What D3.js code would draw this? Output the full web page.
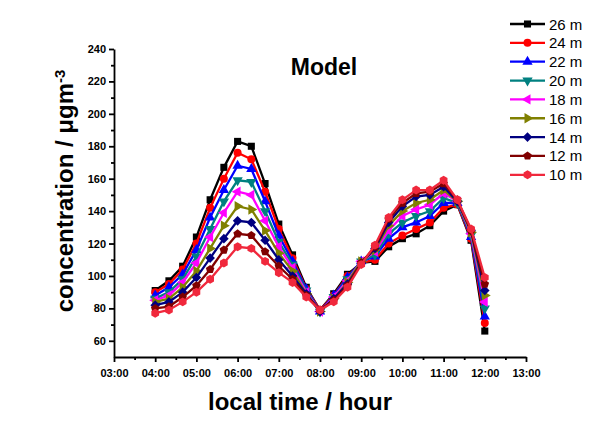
<!DOCTYPE html>
<html>
<head>
<meta charset="utf-8">
<script src="https://cdn.jsdelivr.net/npm/d3@7"></script>
<style>
  body { margin: 0; background: #fff; }
  svg { font-family: "Liberation Sans", Arial, sans-serif; }
  .axis path, .axis line { stroke: #000; stroke-width: 1.8px; }
  .axis text { font-size: 11px; font-weight: bold; fill: #000; }
</style>
</head>
<body>
<div id="chart"></div>
<script>
var times = ["04:00","04:20","04:40","05:00","05:20","05:40","06:00","06:20","06:40",
             "07:00","07:20","07:40","08:00","08:20","08:40","09:00","09:20","09:40",
             "10:00","10:20","10:40","11:00","11:20","11:40","12:00"];

var h26 = [91, 97, 106, 124, 147, 167, 183, 180, 157, 132, 113, 93, 79, 89, 101, 108, 109, 118, 123, 126, 131, 140, 144, 122, 66];
var h24 = [90, 95, 104, 120, 142, 160, 176, 172, 152, 129, 111, 92, 79, 88, 100, 108, 110, 120, 125, 129, 133, 142, 144, 123, 71];
var h22 = [88, 93, 101, 116, 136, 153, 168, 166, 146, 125, 109, 92, 78, 88, 99, 109, 112, 123, 130, 133, 137, 145, 145, 124, 75];
var h20 = [86, 90, 98, 112, 129, 146, 159, 158, 140, 121, 107, 91, 78, 87, 98, 109, 113, 126, 133, 137, 140, 148, 145, 125, 80];
var h18 = [85, 88, 96, 108, 124, 139, 152, 150, 134, 118, 105, 90, 78, 87, 97, 109, 115, 128, 137, 141, 144, 151, 146, 126, 84];
var h16 = [84, 86, 93, 103, 117, 131, 143, 141, 128, 114, 103, 89, 78, 86, 96, 109, 116, 131, 140, 145, 147, 153, 146, 127, 88];
var h14 = [82, 84, 90, 99, 111, 123, 134, 133, 122, 110, 100, 89, 78, 86, 95, 108, 117, 133, 143, 149, 150, 155, 146, 128, 91];
var h12 = [80, 81, 87, 94, 104, 116, 126, 125, 115, 106, 98, 88, 79, 85, 94, 108, 118, 135, 145, 151, 152, 157, 147, 128, 95];
var h10 = [77, 79, 84, 90, 98, 108, 118, 117, 109, 102, 96, 87, 79, 84, 93, 107, 119, 136, 147, 153, 153, 159, 147, 129, 99];

var seriesNames = ["26 m", "24 m", "22 m", "20 m", "18 m", "16 m", "14 m", "12 m", "10 m"];
var seriesValues = [h26, h24, h22, h20, h18, h16, h14, h12, h10];
var seriesColors = ["#000000", "#ff0000", "#0000ff", "#008080", "#ff00ff", "#808000", "#000080", "#800000", "#f0283c"];
var seriesShapes = ["square", "circle", "up", "down", "left", "right", "diamond", "pentagon", "hexagon"];

var xTicks = [3, 4, 5, 6, 7, 8, 9, 10, 11, 12, 13];
var yTicks = [60, 80, 100, 120, 140, 160, 180, 200, 220, 240];

var width = 608, height = 422;
var margin = {top: 49, right: 82, bottom: 65, left: 114};

function toHour(s) {
    var p = s.split(":");
    return +p[0] + (+p[1]) / 60;
}

function polygon(n, rot) {
    return {
        draw: function(ctx, size) {
            var r = Math.sqrt(size / (n / 2 * Math.sin(2 * Math.PI / n)));
            for (var i = 0; i < n; i++) {
                var a = rot + i * 2 * Math.PI / n;
                var x = r * Math.sin(a), y = -r * Math.cos(a);
                if (i === 0) ctx.moveTo(x, y); else ctx.lineTo(x, y);
            }
            ctx.closePath();
        }
    };
}

function markerPath(shape) {
    if (shape === "square") return d3.symbol(d3.symbolSquare, 50)();
    if (shape === "circle") return d3.symbol(d3.symbolCircle, 50)();
    if (shape === "diamond") return d3.symbol(polygon(4, 0), 46)();
    if (shape === "pentagon") return d3.symbol(polygon(5, 0), 48)();
    if (shape === "hexagon") return d3.symbol(polygon(6, 0), 52)();
    return d3.symbol(d3.symbolTriangle, 46)();
}

function markerRotate(shape) {
    if (shape === "down") return 180;
    if (shape === "left") return -90;
    if (shape === "right") return 90;
    return 0;
}

var svg = d3.select("#chart").append("svg")
    .attr("width", width)
    .attr("height", height);

var x = d3.scaleLinear()
    .domain([3, 13])
    .range([margin.left, width - margin.right]);

var y = d3.scaleLinear()
    .domain([50, 240])
    .range([height - margin.bottom, margin.top]);

// minor ticks first, then major ones on top
svg.append("g")
    .attr("class", "axis")
    .attr("transform", "translate(0," + (height - margin.bottom) + ")")
    .call(d3.axisBottom(x).tickValues(d3.range(3.5, 13, 1)).tickSize(3).tickFormat(""))
    .select(".domain").remove();

svg.append("g")
    .attr("class", "axis")
    .attr("transform", "translate(0," + (height - margin.bottom) + ")")
    .call(d3.axisBottom(x).tickValues(xTicks).tickSize(5).tickSizeOuter(0)
        .tickFormat(function(d) { return d3.format("02d")(d) + ":00"; }))
    .selectAll("text").attr("dy", "1.05em");

svg.append("g")
    .attr("class", "axis")
    .attr("transform", "translate(" + margin.left + ",0)")
    .call(d3.axisLeft(y).tickValues(d3.range(70, 240, 20)).tickSize(3).tickFormat(""))
    .select(".domain").remove();

svg.append("g")
    .attr("class", "axis")
    .attr("transform", "translate(" + margin.left + ",0)")
    .call(d3.axisLeft(y).tickValues(yTicks).tickSize(5).tickSizeOuter(0).tickPadding(3));

var line = d3.line()
    .x(function(d, i) { return x(toHour(times[i])); })
    .y(function(d) { return y(d); });

seriesValues.forEach(function(vals, k) {
    var g = svg.append("g");
    g.append("path")
        .datum(vals)
        .attr("fill", "none")
        .attr("stroke", seriesColors[k])
        .attr("stroke-width", 2.3)
        .attr("d", line);
    g.selectAll("path.mark")
        .data(vals)
        .enter().append("path")
        .attr("class", "mark")
        .attr("fill", seriesColors[k])
        .attr("d", markerPath(seriesShapes[k]))
        .attr("transform", function(d, i) {
            return "translate(" + x(toHour(times[i])) + "," + y(d) + ") rotate(" + markerRotate(seriesShapes[k]) + ")";
        });
});

// legend
var legend = svg.append("g").attr("transform", "translate(510,24)");
seriesNames.forEach(function(name, k) {
    var row = legend.append("g").attr("transform", "translate(0," + (k * 18.85) + ")");
    row.append("line")
        .attr("x1", 0).attr("x2", 35)
        .attr("stroke", seriesColors[k])
        .attr("stroke-width", 2.3);
    row.append("path")
        .attr("fill", seriesColors[k])
        .attr("d", markerPath(seriesShapes[k]))
        .attr("transform", "translate(17.5,0) rotate(" + markerRotate(seriesShapes[k]) + ")");
    row.append("text")
        .attr("x", 39)
        .attr("y", 5.5)
        .style("font-size", "15px")
        .text(name);
});

svg.append("text")
    .attr("x", 324)
    .attr("y", 75)
    .attr("text-anchor", "middle")
    .style("font-size", "23px")
    .style("font-weight", "bold")
    .text("Model");

svg.append("text")
    .attr("x", 300)
    .attr("y", 410)
    .attr("text-anchor", "middle")
    .style("font-size", "24px")
    .style("font-weight", "bold")
    .text("local time / hour");

var yl = svg.append("text")
    .attr("transform", "translate(73,191) rotate(-90)")
    .attr("text-anchor", "middle")
    .style("font-size", "24px")
    .style("font-weight", "bold");
yl.append("tspan").text("concentration / \u03bcgm");
yl.append("tspan").attr("dy", "-0.55em").style("font-size", "15px").text("-3");
</script>
</body>
</html>
